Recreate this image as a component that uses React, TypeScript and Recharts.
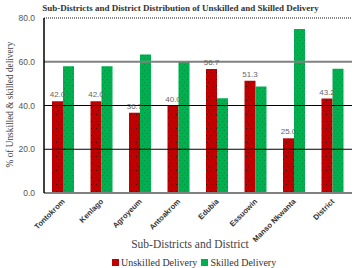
import React from "react";
import {
  BarChart,
  Bar,
  XAxis,
  YAxis,
  ReferenceLine,
  LabelList,
  Legend
} from "recharts";

/* ---------------- DATA ---------------- */

const areas = [
  "Tontokrom",
  "Kenlago",
  "Agroyeum",
  "Antoakrom",
  "Edubia",
  "Essuowin",
  "Manso Nkwanta",
  "District"
];

const unskilled = [42.0, 42.0, 36.7, 40.0, 56.7, 51.3, 25.0, 43.2];
const skilled = [58.0, 58.0, 63.3, 60.0, 43.3, 48.7, 75.0, 56.8];

const yTicks = [0, 20, 40, 60, 80];

const chartData = areas.map((name, i) => ({
  name,
  unskilled: unskilled[i],
  skilled: skilled[i]
}));

/* ---------------- COLORS ---------------- */

const RED = "#c00000";
const GREEN = "#00b050";
const SERIF = "'Liberation Serif', 'DejaVu Serif', serif";
const SANS = "'Liberation Sans', Arial, sans-serif";

/* ---------------- PARTS ---------------- */

function AreaTick(props: any) {
  const { x, y, payload } = props;
  const ax = x + 2;
  const ay = y + 1;
  return (
    <text
      x={ax}
      y={ay}
      transform={`rotate(-45, ${ax}, ${ay})`}
      textAnchor="end"
      fontFamily={SANS}
      fontWeight="bold"
      fontSize={7.6}
      fill="#333"
    >
      {payload.value}
    </text>
  );
}

function LegendBox() {
  const item = (color: string, text: string) => (
    <span style={{ display: "inline-flex", alignItems: "center", marginRight: 4 }}>
      <span style={{ width: 7, height: 7, background: color, display: "inline-block", marginRight: 2 }} />
      {text}
    </span>
  );
  return (
    <div style={{ fontFamily: SERIF, fontSize: 10, color: "#333", whiteSpace: "nowrap" }}>
      {item(RED, "Unskilled Delivery")}
      {item(GREEN, "Skilled Delivery")}
    </div>
  );
}

/* ---------------- COMPONENT ---------------- */

export default function App() {
  return (
    <div style={{ position: "absolute", left: 0, top: 0, width: 357, height: 268, background: "#fff" }}>
      <BarChart
        width={357}
        height={268}
        data={chartData}
        margin={{ top: 18, right: 5, left: 4, bottom: 0 }}
        barSize={11}
        barGap={0}
      >
        <defs>
          <pattern id="redDots" width="5" height="7" patternUnits="userSpaceOnUse">
            <rect width="5" height="7" fill={RED} />
            <rect x="1" y="2" width="1" height="1" fill="#000" opacity="0.7" />
            <rect x="3" y="5" width="1" height="1" fill="#300" opacity="0.5" />
          </pattern>
          <pattern id="greenDots" width="5" height="6" patternUnits="userSpaceOnUse">
            <rect width="5" height="6" fill={GREEN} />
            <rect x="2" y="1" width="1" height="1" fill="#0a6a34" opacity="0.7" />
            <rect x="4" y="4" width="1" height="1" fill="#0a6a34" opacity="0.5" />
          </pattern>
        </defs>

        <ReferenceLine y={80} stroke="#8a8a8a" strokeWidth={2} strokeDasharray="1 1" />
        <ReferenceLine y={60} stroke="#808080" strokeWidth={2} />
        <ReferenceLine y={40} stroke="#000" strokeWidth={1} />
        <ReferenceLine y={20} stroke="#000" strokeWidth={1} />

        <XAxis
          dataKey="name"
          height={64}
          interval={0}
          tickLine={false}
          axisLine={{ stroke: "#808080", strokeWidth: 2 }}
          tick={<AreaTick />}
        />
        <YAxis
          width={40}
          domain={[0, 80]}
          ticks={yTicks}
          tickFormatter={(v: number) => v.toFixed(1)}
          tickLine={false}
          tickSize={5}
          tickMargin={4}
          axisLine={{ stroke: "#000", strokeWidth: 1.5 }}
          tick={{ fontFamily: SANS, fontSize: 8.5, fill: "#555" }}
        />

        <Legend
          content={<LegendBox />}
          wrapperStyle={{ position: "absolute", left: 112, top: 257, width: "auto" }}
        />

        <Bar dataKey="unskilled" fill="url(#redDots)" isAnimationActive={false}>
          <LabelList
            dataKey="unskilled"
            position="top"
            offset={4}
            formatter={(v: any) => Number(v).toFixed(1)}
            style={{ fontFamily: SANS, fontSize: 8, fill: "#666" }}
          />
        </Bar>
        <Bar dataKey="skilled" fill="url(#greenDots)" isAnimationActive={false} />
      </BarChart>

      {/* chart title */}
      <div
        style={{
          position: "absolute",
          top: 3,
          left: 2,
          width: 357,
          textAlign: "center",
          fontFamily: SERIF,
          fontWeight: "bold",
          fontSize: 9,
          lineHeight: "10px",
          color: "#333"
        }}
      >
        Sub-Districts and District Distribution of Unskilled and Skilled Delivery
      </div>

      {/* x axis title */}
      <div
        style={{
          position: "absolute",
          top: 238,
          left: 90,
          width: 200,
          textAlign: "center",
          fontFamily: SERIF,
          fontSize: 11.5,
          lineHeight: "13px",
          color: "#444"
        }}
      >
        Sub-Districts and District
      </div>

      {/* y axis title */}
      <div
        style={{
          position: "absolute",
          top: 99,
          left: -65,
          width: 150,
          textAlign: "center",
          transform: "rotate(-90deg)",
          fontFamily: SERIF,
          fontSize: 9.3,
          lineHeight: "11px",
          color: "#444",
          whiteSpace: "nowrap"
        }}
      >
        % of Unskilled &amp; skilled delivery
      </div>
    </div>
  );
}
